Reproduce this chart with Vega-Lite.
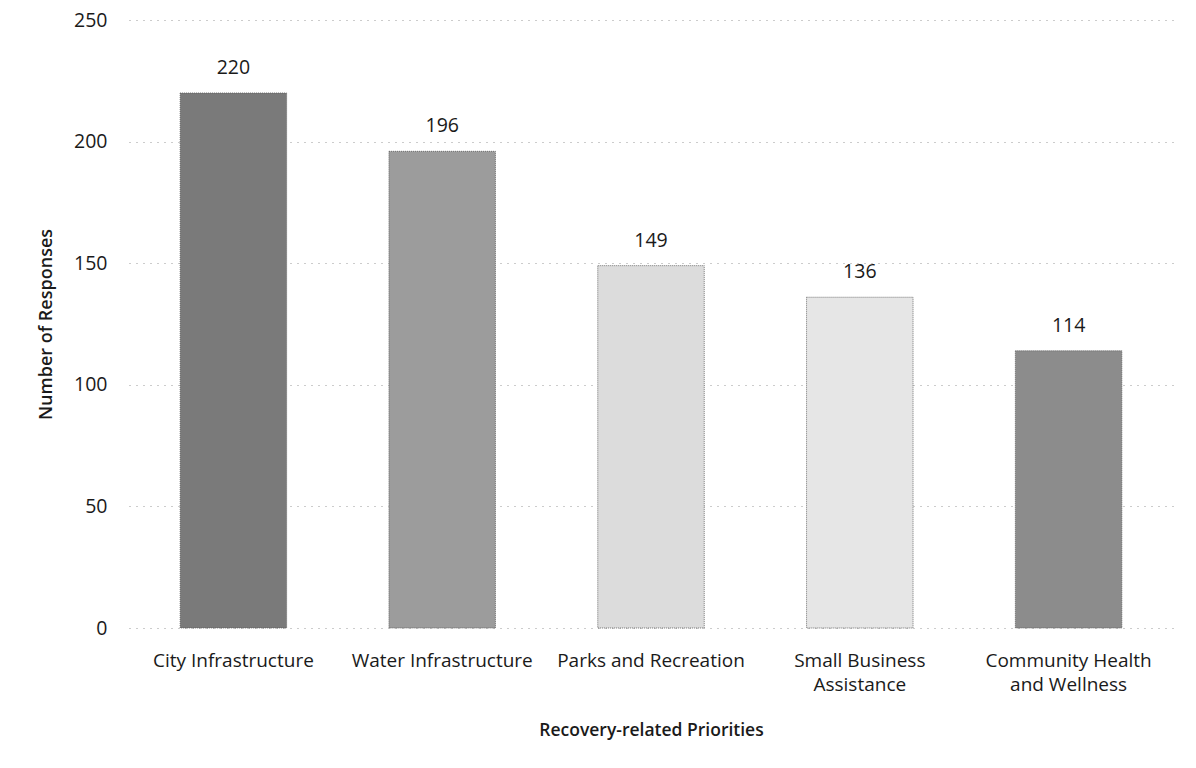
{
  "$schema": "https://vega.github.io/schema/vega-lite/v6.json",
  "autosize": "none",
  "width": 1044,
  "height": 608,
  "padding": {"left": 129, "top": 20, "right": 23, "bottom": 140},
  "background": "white",
  "data": {"values": [
    {"priority": "City Infrastructure", "responses": 220, "shade": "a"},
    {"priority": "Water Infrastructure", "responses": 196, "shade": "b"},
    {"priority": "Parks and Recreation", "responses": 149, "shade": "c"},
    {"priority": "Small Business Assistance", "responses": 136, "shade": "d"},
    {"priority": "Community Health and Wellness", "responses": 114, "shade": "e"}
  ]},
  "config": {
    "font": "Open Sans",
    "view": {"stroke": null},
    "axis": {"labelFont": "Open Sans", "titleFont": "Open Sans", "labelColor": "#1a1a1a", "titleColor": "#1a1a1a"}
  },
  "encoding": {
    "x": {
      "field": "priority", "type": "nominal", "sort": null,
      "scale": {"paddingInner": 0.49, "paddingOuter": 0.245},
      "axis": {
        "title": "Recovery-related Priorities",
        "titleFontSize": 17.5, "titleFontWeight": 600, "titlePadding": 27,
        "labelFontSize": 19, "labelAngle": 0, "labelPadding": 23, "labelLimit": 400,
        "ticks": false, "domain": false,
        "labelExpr": "datum.label == 'Small Business Assistance' ? ['Small Business', 'Assistance'] : datum.label == 'Community Health and Wellness' ? ['Community Health', 'and Wellness'] : datum.label",
        "labelLineHeight": 24
      }
    },
    "y": {
      "field": "responses", "type": "quantitative",
      "scale": {"domain": [0, 250]},
      "axis": {
        "title": "Number of Responses",
        "titleFontSize": 18, "titleFontWeight": 600, "titlePadding": 18,
        "labelFontSize": 19.5, "labelPadding": 22,
        "values": [0, 50, 100, 150, 200, 250],
        "ticks": false, "domain": false,
        "grid": true, "gridColor": "#999", "gridDash": [1, 6], "gridWidth": 1
      }
    }
  },
  "layer": [
    {
      "mark": {"type": "bar", "stroke": "#555", "strokeWidth": 0.8, "strokeDash": [1, 1]},
      "encoding": {
        "color": {
          "field": "shade", "type": "nominal", "legend": null,
          "scale": {"domain": ["a", "b", "c", "d", "e"], "range": ["#7a7a7a", "#9c9c9c", "#dcdcdc", "#e6e6e6", "#8c8c8c"]}
        }
      }
    },
    {
      "mark": {"type": "text", "dy": -25, "fontSize": 19.5, "color": "#1a1a1a", "font": "Open Sans"},
      "encoding": {"text": {"field": "responses", "type": "quantitative"}}
    }
  ]
}
